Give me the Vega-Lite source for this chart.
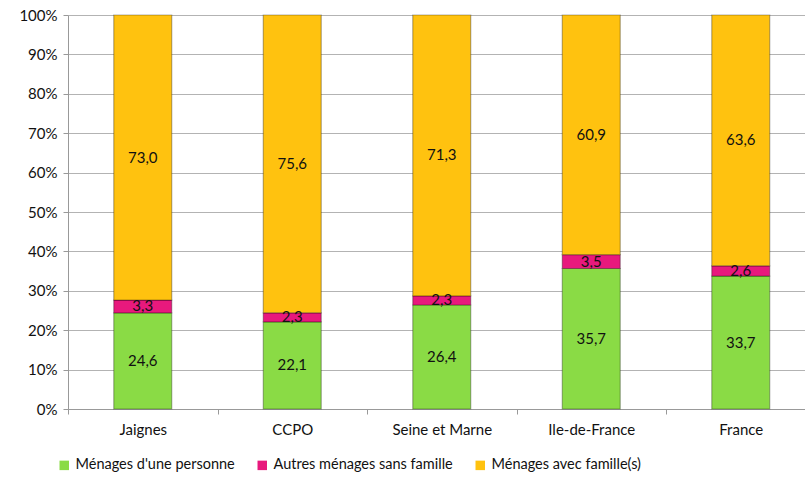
{
  "$schema": "https://vega.github.io/schema/vega-lite/v6.json",
  "autosize": "none",
  "width": 747.5,
  "height": 394,
  "padding": {"left": 68, "top": 15, "right": 0, "bottom": 69},
  "background": "white",
  "config": {
    "locale": {"number": {"decimal": ",", "thousands": " ", "grouping": [3], "currency": ["", " €"]}},
    "font": "Lato",
    "view": {"stroke": null},
    "axisY": {
      "title": null,
      "format": ".0%",
      "values": [0, 0.1, 0.2, 0.3, 0.4, 0.5, 0.6, 0.7, 0.8, 0.9, 1],
      "labelOverlap": false,
      "labelFont": "Lato",
      "labelFontSize": 15,
      "labelColor": "#111",
      "labelPadding": 6,
      "tickSize": 5,
      "tickColor": "#999",
      "domainColor": "#999",
      "gridColor": "#b3b3b3",
      "gridWidth": 1
    }
  },
  "data": {
    "values": [
      {"zone": "Jaignes", "type": "Ménages d'une personne", "ord": 1, "v": 24.6},
      {"zone": "Jaignes", "type": "Autres ménages sans famille", "ord": 2, "v": 3.3},
      {"zone": "Jaignes", "type": "Ménages avec famille(s)", "ord": 3, "v": 73.0},
      {"zone": "CCPO", "type": "Ménages d'une personne", "ord": 1, "v": 22.1},
      {"zone": "CCPO", "type": "Autres ménages sans famille", "ord": 2, "v": 2.3},
      {"zone": "CCPO", "type": "Ménages avec famille(s)", "ord": 3, "v": 75.6},
      {"zone": "Seine et Marne", "type": "Ménages d'une personne", "ord": 1, "v": 26.4},
      {"zone": "Seine et Marne", "type": "Autres ménages sans famille", "ord": 2, "v": 2.3},
      {"zone": "Seine et Marne", "type": "Ménages avec famille(s)", "ord": 3, "v": 71.3},
      {"zone": "Ile-de-France", "type": "Ménages d'une personne", "ord": 1, "v": 35.7},
      {"zone": "Ile-de-France", "type": "Autres ménages sans famille", "ord": 2, "v": 3.5},
      {"zone": "Ile-de-France", "type": "Ménages avec famille(s)", "ord": 3, "v": 60.9},
      {"zone": "France", "type": "Ménages d'une personne", "ord": 1, "v": 33.7},
      {"zone": "France", "type": "Autres ménages sans famille", "ord": 2, "v": 2.6},
      {"zone": "France", "type": "Ménages avec famille(s)", "ord": 3, "v": 63.6}
    ]
  },
  "encoding": {
    "x": {
      "field": "zone",
      "type": "nominal",
      "sort": null,
      "scale": {"paddingInner": 0, "paddingOuter": 0},
      "axis": {
        "title": null,
        "labelAngle": 0,
        "labelFont": "Lato",
        "labelFontSize": 15,
        "labelColor": "#111",
        "labelPadding": 8,
        "tickBand": "extent",
        "tickSize": 5,
        "tickColor": "#999",
        "domainColor": "#999",
        "grid": false
      }
    },
    "order": {"field": "ord", "type": "quantitative"}
  },
  "layer": [
    {
      "mark": {"type": "bar", "width": 58, "stroke": "#000", "strokeOpacity": 0.3, "strokeWidth": 1.2},
      "encoding": {
        "y": {
          "field": "v",
          "type": "quantitative",
          "stack": "normalize",
          "scale": {"domain": [0, 1], "nice": false},
          "title": null
        },
        "color": {
          "field": "type",
          "type": "nominal",
          "scale": {
            "domain": ["Ménages d'une personne", "Autres ménages sans famille", "Ménages avec famille(s)"],
            "range": ["#8ADB45", "#E8197D", "#FFC20F"]
          },
          "legend": {
            "title": null,
            "orient": "none",
            "direction": "horizontal",
            "legendX": -11,
            "legendY": 443,
            "symbolType": "square",
            "symbolSize": 90,
            "symbolStrokeWidth": 0,
            "labelFont": "Lato",
            "labelFontSize": 14.5,
            "labelLimit": 400,
            "labelColor": "#111",
            "labelOffset": 4,
            "columnPadding": 20
          }
        }
      }
    },
    {
      "mark": {"type": "text", "font": "Lato", "fontSize": 15, "color": "#111", "baseline": "middle"},
      "encoding": {
        "y": {
          "field": "v",
          "type": "quantitative",
          "stack": "normalize",
          "bandPosition": 0.5,
          "scale": {"domain": [0, 1], "nice": false},
          "title": null
        },
        "text": {"field": "v", "type": "quantitative", "format": ".1f"},
        "detail": {"field": "type"}
      }
    }
  ]
}
